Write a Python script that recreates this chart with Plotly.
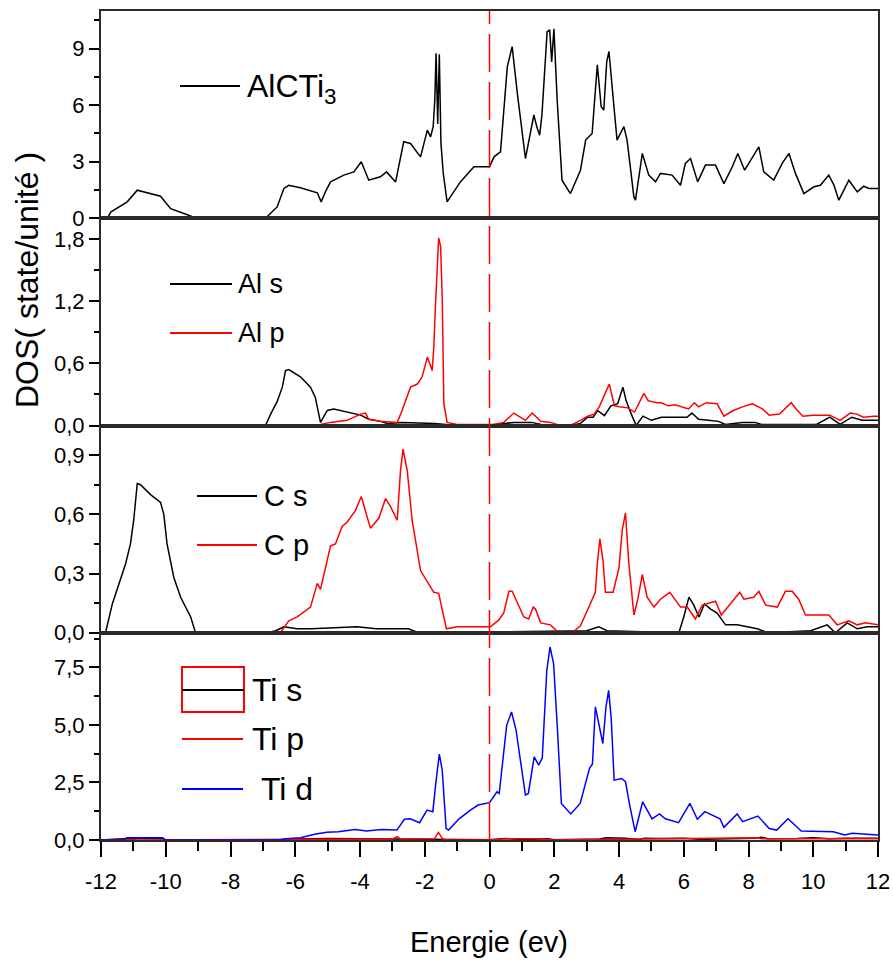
import plotly.graph_objects as go
from plotly.subplots import make_subplots

# ---------------- data ----------------
E_total = [-12.0, -11.8, -11.7, -11.19, -10.88, -10.57, -10.16, -9.85, -9.54, -9.23, -9.13, -6.92, -6.56, -6.35, -6.2,
           -5.84, -5.32, -5.2, -5.07, -4.91, -4.5, -4.19, -3.96, -3.73, -3.37, -3.18, -2.9, -2.65, -2.44, -2.13, -1.92,
           -1.82, -1.74, -1.69, -1.65, -1.6, -1.55, -1.5, -1.43, -1.31, -0.9, -0.48, 0.0, 0.14, 0.34, 0.55, 0.7, 0.86,
           1.11, 1.37, 1.47, 1.55, 1.62, 1.78, 1.86, 1.92, 1.99, 2.09, 2.24, 2.5, 2.81, 2.97, 3.17, 3.33, 3.45, 3.53,
           3.62, 3.69, 3.84, 3.94, 4.15, 4.25, 4.46, 4.51, 4.72, 4.92, 5.13, 5.28, 5.64, 5.9, 6.05, 6.21, 6.43, 6.67,
           6.98, 7.24, 7.5, 7.67, 7.88, 8.11, 8.32, 8.47, 8.78, 9.04, 9.25, 9.45, 9.71, 10.02, 10.22, 10.48, 10.64,
           10.79, 11.1, 11.36, 11.56, 11.72, 12.0]
DOS_total = [0.0, 0.0, 0.33, 0.87, 1.49, 1.35, 1.17, 0.51, 0.30, 0.12, 0.0, 0.0, 0.6, 1.58, 1.75,
             1.62, 1.35, 0.87, 1.4, 1.93, 2.29, 2.46, 3.0, 2.02, 2.2, 2.46, 1.93, 4.06, 3.97, 3.26, 4.68,
             4.32, 4.86, 6.28, 8.76, 5.0, 8.7, 4.0, 2.4, 0.87, 1.93, 2.73, 2.73, 3.26, 3.53, 8.05, 9.11, 6.63,
             3.17, 5.48, 4.8, 4.41, 5.5, 9.9, 10.0, 8.3, 10.05, 6.28, 2.02, 1.31, 2.55, 4.15, 4.5, 8.14, 5.92, 5.74,
             8.3, 8.85, 6.0, 4.15, 4.86, 4.15, 1.13, 0.96, 3.44, 2.29, 1.93, 2.38, 2.29, 1.75, 2.91, 3.17, 1.93, 2.82,
             2.82, 1.84, 2.73, 3.44, 2.55, 3.17, 3.79, 2.46, 2.02, 2.91, 3.44, 2.38, 1.31, 1.67, 1.75, 2.29, 1.75,
             0.96, 2.02, 1.4, 1.7, 1.58, 1.58]

E_Al_s = [-12.0, -6.92, -6.76, -6.56, -6.4, -6.3, -6.2, -5.84, -5.53, -5.38, -5.22, -5.01, -4.81, -4.4, -3.98, -3.73,
          -3.37, -3.16, -2.7, -1.7, -1.3, -1.0, 0.0, 0.5, 0.75, 1.3, 1.6, 2.5, 2.81, 3.03, 3.2, 3.34, 3.55, 3.75,
          3.96, 4.12, 4.22, 4.38, 4.53, 4.74, 5.0, 5.31, 5.62, 6.1, 6.25, 6.46, 6.76, 7.07, 7.29, 7.81, 8.2, 8.4,
          10.1, 10.51, 10.83, 11.19, 11.5, 12.0]
DOS_Al_s = [0.0, 0.0, 0.11, 0.23, 0.37, 0.53, 0.54, 0.47, 0.37, 0.27, 0.03, 0.145, 0.16, 0.13, 0.10, 0.06,
            0.04, 0.02, 0.03, 0.02, 0.01, 0.0, 0.0, 0.02, 0.03, 0.03, 0.01, 0.0, 0.02, 0.08, 0.08, 0.145, 0.095, 0.19,
            0.21, 0.37, 0.24, 0.11, 0.0, 0.09, 0.05, 0.08, 0.08, 0.08, 0.12, 0.06, 0.05, 0.04, 0.01, 0.03, 0.03, 0.01,
            0.01, 0.08, 0.01, 0.08, 0.05, 0.05]

E_Al_p = [-12.0, -5.22, -4.91, -4.4, -3.98, -3.83, -3.73, -3.37, -2.85, -2.7, -2.44, -2.23, -2.08, -1.92, -1.77,
          -1.72, -1.67, -1.57, -1.51, -1.46, -1.41, -1.31, -1.0, 0.1, 0.44, 0.75, 1.11, 1.32, 1.58, 1.88, 2.19, 2.5,
          2.81, 3.03, 3.23, 3.39, 3.7, 3.86, 4.01, 4.27, 4.48, 4.77, 4.9, 5.16, 5.31, 5.52, 5.73, 6.15, 6.33, 6.46,
          6.69, 7.03, 7.24, 7.5, 7.81, 8.12, 8.43, 8.64, 8.96, 9.32, 9.47, 9.68, 9.99, 10.51, 10.83, 11.14, 11.35,
          11.55, 11.86, 12.0]
DOS_Al_p = [0.0, 0.01, 0.03, 0.05, 0.11, 0.12, 0.06, 0.04, 0.03, 0.145, 0.37, 0.40, 0.47, 0.66, 0.53,
            0.76, 1.15, 1.81, 1.73, 1.24, 0.21, 0.03, 0.01, 0.01, 0.03, 0.12, 0.05, 0.12, 0.04, 0.03, 0.0, 0.0,
            0.05, 0.09, 0.11, 0.18, 0.40, 0.19, 0.18, 0.17, 0.13, 0.31, 0.24, 0.22, 0.22, 0.19, 0.20, 0.16, 0.22, 0.18,
            0.22, 0.21, 0.09, 0.14, 0.18, 0.21, 0.16, 0.10, 0.11, 0.22, 0.16, 0.09, 0.10, 0.10, 0.05, 0.12, 0.11,
            0.08, 0.09, 0.09]

E_C_s = [-12.0, -11.86, -11.65, -11.24, -11.09, -10.99, -10.88, -10.78, -10.47, -10.16, -10.06, -9.96, -9.75, -9.54,
         -9.23, -9.08, -6.87, -6.6, -6.35, -5.94, -5.5, -4.09, -3.5, -2.5, -2.2, 3.0, 3.38, 3.63, 5.85, 6.0, 6.16,
         6.31, 6.47, 6.64, 6.83, 7.03, 7.29, 7.65, 7.96, 8.27, 8.6, 9.92, 10.43, 10.68, 11.05, 11.36, 11.67, 12.0]
DOS_C_s = [0.0, 0.0, 0.146, 0.35, 0.45, 0.57, 0.756, 0.75, 0.70, 0.66, 0.60, 0.45, 0.28, 0.18,
           0.08, 0.0, 0.0, 0.01, 0.03, 0.02, 0.02, 0.03, 0.02, 0.02, 0.0, 0.01, 0.03, 0.01, 0.0, 0.08, 0.18,
           0.14, 0.08, 0.146, 0.12, 0.10, 0.04, 0.04, 0.03, 0.02, 0.0, 0.01, 0.04, 0.0, 0.05, 0.02, 0.03, 0.03]

E_C_p = [-12.0, -6.46, -6.2, -5.94, -5.53, -5.32, -5.22, -4.91, -4.76, -4.55, -4.4, -4.14, -3.96, -3.68, -3.42, -3.21,
         -3.06, -2.85, -2.75, -2.67, -2.54, -2.39, -2.13, -1.92, -1.72, -1.57, -1.33, -1.0, 0.03, 0.29, 0.44, 0.6,
         0.7, 1.06, 1.21, 1.35, 1.42, 1.58, 1.88, 2.14, 2.55, 2.81, 3.02, 3.27, 3.33, 3.41, 3.51, 3.58, 3.82, 4.0,
         4.1, 4.2, 4.3, 4.46, 4.58, 4.72, 4.87, 5.08, 5.28, 5.57, 5.9, 6.11, 6.36, 6.57, 6.98, 7.16, 7.73, 7.86,
         8.16, 8.32, 8.53, 8.89, 9.14, 9.35, 9.55, 9.76, 10.48, 10.74, 11.1, 11.36, 11.61, 12.0]
DOS_C_p = [0.0, 0.0, 0.06, 0.08, 0.13, 0.25, 0.22, 0.44, 0.45, 0.54, 0.56, 0.62, 0.69, 0.53, 0.58, 0.68,
           0.64, 0.57, 0.82, 0.93, 0.82, 0.57, 0.315, 0.26, 0.205, 0.20, 0.02, 0.03, 0.03, 0.065, 0.10, 0.21,
           0.21, 0.08, 0.07, 0.13, 0.12, 0.05, 0.04, 0.0, 0.0, 0.035, 0.11, 0.205, 0.35, 0.476, 0.36, 0.205, 0.205, 0.33,
           0.52, 0.607, 0.36, 0.09, 0.17, 0.295, 0.18, 0.13, 0.17, 0.205, 0.13, 0.13, 0.07, 0.14, 0.16, 0.09, 0.205, 0.17,
           0.18, 0.21, 0.14, 0.13, 0.21, 0.21, 0.17, 0.09, 0.09, 0.04, 0.06, 0.04, 0.05, 0.04]

E_Ti_s = [-12.0, -11.2, -10.1, -10.0, -6.3, -6.0, -5.0, -4.0, -3.0, -1.3, 0.0, 0.5, 1.0, 1.8, 2.0, 3.4, 3.6, 4.2,
          4.6, 4.8, 5.2, 6.0, 6.5, 8.2, 8.4, 8.6, 9.5, 10.0, 10.5, 11.0, 12.0]
DOS_Ti_s = [0.0, 0.06, 0.06, 0.0, 0.0, 0.04, 0.06, 0.05, 0.03, 0.02, 0.01, 0.06, 0.02, 0.05, 0.01, 0.04, 0.1, 0.08,
            0.02, 0.08, 0.06, 0.08, 0.03, 0.08, 0.12, 0.05, 0.06, 0.1, 0.05, 0.08, 0.08]

E_Ti_p = [-12.0, -11.2, -10.9, -6.3, -5.8, -3.0, -2.85, -2.75, -1.7, -1.58, -1.45, -1.3, 0.0, 0.5, 1.5, 2.0, 3.5,
          6.0, 8.3, 8.4, 12.0]
DOS_Ti_p = [0.0, 0.03, 0.0, 0.0, 0.03, 0.04, 0.15, 0.04, 0.05, 0.33, 0.05, 0.0, 0.0, 0.05, 0.05, 0.0, 0.03,
            0.05, 0.1, 0.05, 0.05]

E_Ti_d = [-12.0, -11.3, -11.2, -10.1, -10.0, -6.5, -6.3, -5.84, -5.37, -5.02, -4.67, -4.15, -3.8, -3.33, -2.86,
          -2.63, -2.45, -2.16, -1.93, -1.75, -1.66, -1.55, -1.46, -1.34, -1.26, -0.94, -0.59, -0.35, 0.0, 0.23, 0.3,
          0.53, 0.68, 0.82, 1.11, 1.2, 1.38, 1.52, 1.63, 1.77, 1.87, 1.98, 2.1, 2.22, 2.51, 2.8, 3.09, 3.18, 3.27,
          3.39, 3.5, 3.6, 3.68, 3.76, 3.85, 4.08, 4.2, 4.34, 4.5, 4.73, 5.02, 5.25, 5.43, 5.84, 6.19, 6.42, 6.65,
          7.12, 7.24, 7.65, 7.82, 8.29, 8.64, 8.87, 9.22, 9.63, 10.62, 10.97, 11.21, 12.0]
DOS_Ti_d = [0.0, 0.0, 0.1, 0.1, 0.0, 0.0, 0.05, 0.1, 0.26, 0.34, 0.36, 0.46, 0.39, 0.46, 0.43,
            0.9, 0.92, 0.75, 1.3, 1.23, 2.46, 3.73, 3.03, 0.5, 0.43, 0.92, 1.3, 1.52, 1.62, 2.09, 2.02,
            4.98, 5.56, 4.77, 1.95, 2.02, 3.61, 3.25, 3.56, 7.37, 8.38, 7.66, 4.77, 1.59, 1.13, 1.59, 3.11, 3.3, 5.78,
            4.98, 4.19, 5.8, 6.5, 5.27, 2.6, 2.67, 2.53, 1.44, 0.36, 1.66, 0.92, 1.13, 0.92, 0.75, 1.59, 0.9, 1.23,
            0.92, 0.55, 1.13, 0.8, 1.04, 0.5, 0.43, 0.92, 0.39, 0.36, 0.22, 0.29, 0.22]

x_ticks = [-12, -10, -8, -6, -4, -2, 0, 2, 4, 6, 8, 10, 12]
x_ticklabels = ["-12", "-10", "-8", "-6", "-4", "-2", "0", "2", "4", "6", "8", "10", "12"]

y_ticks = [[0, 3, 6, 9], [0, 0.6, 1.2, 1.8], [0, 0.3, 0.6, 0.9], [0, 2.5, 5.0, 7.5]]
y_ticklabels = [["0", "3", "6", "9"], ["0,0", "0,6", "1,2", "1,8"], ["0,0", "0,3", "0,6", "0,9"],
                ["0,0", "2,5", "5,0", "7,5"]]
y_minor = [[1.5, 4.5, 7.5, 10.5], [0.3, 0.9, 1.5], [0.15, 0.45, 0.75], [1.25, 3.75, 6.25, 8.75]]
y_ranges = [[0, 11], [0, 2.0], [0, 1.05], [0, 9.0]]

# ---------------- figure ----------------
FONT = "Liberation Sans, Arial, sans-serif"
BLACK, RED, BLUE = "#000000", "#ff0000", "#0000ff"

fig = make_subplots(rows=4, cols=1, shared_xaxes=True, vertical_spacing=0)

def add(x, y, color, row, name):
    fig.add_trace(go.Scatter(x=x, y=y, mode="lines", name=name, showlegend=False,
                             line=dict(color=color, width=1.5)), row=row, col=1)

add(E_total, DOS_total, BLACK, 1, "AlCTi3")
add(E_Al_s, DOS_Al_s, BLACK, 2, "Al s")
add(E_Al_p, DOS_Al_p, RED, 2, "Al p")
add(E_C_s, DOS_C_s, BLACK, 3, "C s")
add(E_C_p, DOS_C_p, RED, 3, "C p")
add(E_Ti_s, DOS_Ti_s, BLACK, 4, "Ti s")
add(E_Ti_p, DOS_Ti_p, RED, 4, "Ti p")
add(E_Ti_d, DOS_Ti_d, BLUE, 4, "Ti d")

AXC = "#2a2a2a"
for r in range(1, 5):
    fig.update_yaxes(row=r, col=1, range=y_ranges[r - 1], tickmode="array", tickvals=y_ticks[r - 1],
                     ticktext=y_ticklabels[r - 1], ticks="outside", ticklen=10, tickwidth=1.5, tickcolor=BLACK,
                     minor=dict(tickmode="array", tickvals=y_minor[r - 1], ticks="outside", ticklen=5,
                                tickwidth=1.5, tickcolor=BLACK),
                     showline=True, linecolor=AXC, linewidth=2, mirror=True, showgrid=False, zeroline=False,
                     automargin=False, tickfont=dict(family=FONT, size=22, color=BLACK))
    fig.update_xaxes(row=r, col=1, range=[-12, 12], showline=True, linecolor=AXC, linewidth=2, mirror=True,
                     showgrid=False, zeroline=False, automargin=False)
    if r < 4:
        fig.update_xaxes(row=r, col=1, ticks="", showticklabels=False)

fig.update_xaxes(row=4, col=1, tickmode="array", tickvals=x_ticks, ticktext=x_ticklabels, ticks="outside",
                 ticklen=15, tickwidth=1.5, tickcolor=BLACK, showticklabels=True, ticklabelstandoff=6,
                 minor=dict(dtick=1, tick0=0, ticks="outside", ticklen=9, tickwidth=1.5, tickcolor=BLACK),
                 tickfont=dict(family=FONT, size=22, color=BLACK))

# layout geometry
L, R, T, B = 101, 15, 11, 125
W, H = 893, 965
PW, PH = W - L - R, H - T - B

def px(xp):
    return (xp - L) / PW

def py(yp):
    return (H - B - yp) / PH

shapes = []
annotations = []

# Fermi level dashed line
shapes.append(dict(type="line", xref="x", yref="paper", x0=0, x1=0, y0=0, y1=1,
                   line=dict(color=RED, width=1.5, dash="38px,10px")))

def leg_line(x0, x1, y, color):
    shapes.append(dict(type="line", xref="paper", yref="paper", x0=px(x0), x1=px(x1), y0=py(y), y1=py(y),
                       line=dict(color=color, width=2)))

def leg_text(x, y, text, size):
    annotations.append(dict(xref="paper", yref="paper", x=px(x), y=py(y), text=text, showarrow=False,
                            xanchor="left", yanchor="middle",
                            font=dict(family=FONT, size=size, color=BLACK)))

leg_line(180, 240, 86, BLACK)
leg_text(245, 88, "AlCTi<sub>3</sub>", 32)

leg_line(170, 232, 284, BLACK)
leg_text(236, 284, "Al s", 27)
leg_line(170, 232, 333, RED)
leg_text(236, 333, "Al p", 27)

leg_line(197, 257, 496, BLACK)
leg_text(262, 496, "C s", 29)
leg_line(197, 257, 545, RED)
leg_text(262, 545, "C p", 29)

shapes.append(dict(type="rect", xref="paper", yref="paper", x0=px(182), x1=px(244), y0=py(712), y1=py(667),
                   line=dict(color=RED, width=2), fillcolor="rgba(0,0,0,0)"))
leg_line(182, 244, 690, BLACK)
leg_text(250, 690, "Ti s", 32)
leg_line(182, 243, 739, RED)
leg_text(250, 739, "Ti p", 32)
leg_line(182, 243, 789, BLUE)
leg_text(250, 789, "&nbsp;Ti d", 32)

# axis titles
annotations.append(dict(xref="paper", yref="paper", x=px(27), y=py(280), text="DOS( state/unité )",
                        textangle=-90, showarrow=False, xanchor="center", yanchor="middle",
                        font=dict(family=FONT, size=32, color=BLACK)))
annotations.append(dict(xref="paper", yref="paper", x=px(489), y=py(942), text="Energie (ev)",
                        showarrow=False, xanchor="center", yanchor="middle",
                        font=dict(family=FONT, size=29, color=BLACK)))

fig.update_layout(width=W, height=H, margin=dict(l=L, r=R, t=T, b=B), paper_bgcolor="white",
                  plot_bgcolor="white", showlegend=False, shapes=shapes, annotations=annotations)

fig.write_html("out.html")
